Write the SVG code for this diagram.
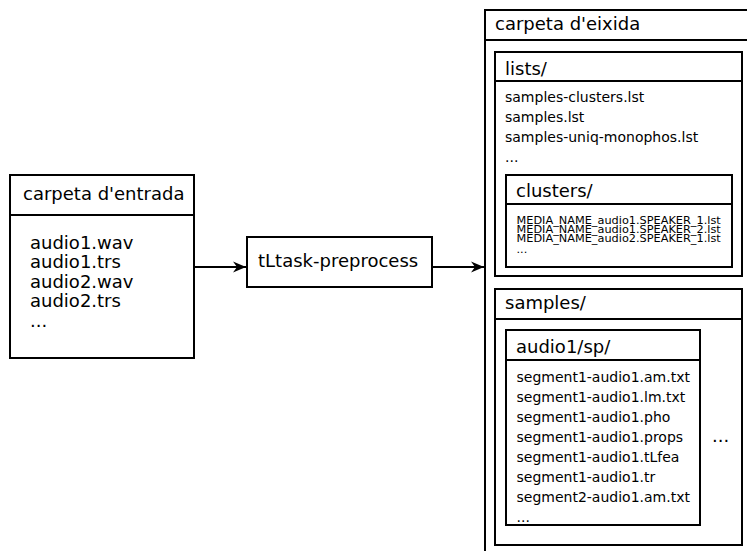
<svg xmlns="http://www.w3.org/2000/svg" width="747" height="551" viewBox="0 0 747 551">
<style>
  .box{fill:#fff;stroke:#000;stroke-width:2}
  .sep{stroke:#000;stroke-width:2;fill:none}
  .conn{stroke:#000;stroke-width:2;fill:none}
  text{font-family:"DejaVu Sans","Liberation Sans",sans-serif;fill:#000}
  .t{font-size:18px}
  .m{font-size:14px}
  .s{font-size:11.3px}
</style>
<defs>
  <marker id="arr" markerUnits="userSpaceOnUse" markerWidth="16" markerHeight="14" refX="14" refY="7" orient="auto">
    <path d="M14,7 L1,1.5 L5,7 L1,12.5 Z" fill="#000"/>
  </marker>
</defs>
<rect width="747" height="551" fill="#fff"/>

<g id="input">
  <rect class="box" x="10" y="175" width="184" height="183"/>
  <line class="sep" x1="10" y1="215" x2="194" y2="215"/>
  <text class="t" x="23" y="200">carpeta d'entrada</text>
  <text class="t" x="30" y="248.5">audio1.wav</text>
  <text class="t" x="30" y="268">audio1.trs</text>
  <text class="t" x="30" y="287.5">audio2.wav</text>
  <text class="t" x="30" y="307">audio2.trs</text>
  <text class="t" x="30" y="327">...</text>
</g>

<g id="preprocess">
  <rect class="box" x="247" y="237" width="185" height="50"/>
  <text class="t" x="258" y="267">tLtask-preprocess</text>
</g>

<g id="output">
  <rect class="box" x="485" y="10" width="300" height="600"/>
  <line class="sep" x1="485" y1="40" x2="747" y2="40"/>
  <text class="t" x="495" y="30">carpeta d'eixida</text>
</g>

<g id="lists">
  <rect class="box" x="495" y="52" width="247" height="224"/>
  <line class="sep" x1="495" y1="81" x2="742" y2="81"/>
  <text class="t" x="505" y="75">lists/</text>
  <text class="m" x="505" y="102">samples-clusters.lst</text>
  <text class="m" x="505" y="122">samples.lst</text>
  <text class="m" x="505" y="142">samples-uniq-monophos.lst</text>
  <text class="m" x="505" y="162">...</text>
</g>

<g id="clusters">
  <rect class="box" x="506" y="175" width="226" height="92"/>
  <line class="sep" x1="506" y1="204" x2="732" y2="204"/>
  <text class="t" x="516" y="197">clusters/</text>
  <text class="s" x="516.5" y="224">MEDIA_NAME_audio1.SPEAKER_1.lst</text>
  <text class="s" x="516.5" y="233">MEDIA_NAME_audio1.SPEAKER_2.lst</text>
  <text class="s" x="516.5" y="242">MEDIA_NAME_audio2.SPEAKER_1.lst</text>
  <text class="s" x="516.5" y="253">...</text>
</g>

<g id="samples">
  <rect class="box" x="495" y="289" width="247" height="256"/>
  <line class="sep" x1="495" y1="319" x2="742" y2="319"/>
  <text class="t" x="505" y="309">samples/</text>
  <text class="t" x="712" y="442">...</text>
</g>

<g id="audio1sp">
  <rect class="box" x="506" y="330" width="194" height="195"/>
  <line class="sep" x1="506" y1="360" x2="700" y2="360"/>
  <text class="t" x="516" y="353">audio1/sp/</text>
  <text class="m" x="516.5" y="382">segment1-audio1.am.txt</text>
  <text class="m" x="516.5" y="402">segment1-audio1.lm.txt</text>
  <text class="m" x="516.5" y="422">segment1-audio1.pho</text>
  <text class="m" x="516.5" y="442">segment1-audio1.props</text>
  <text class="m" x="516.5" y="462">segment1-audio1.tLfea</text>
  <text class="m" x="516.5" y="482">segment1-audio1.tr</text>
  <text class="m" x="516.5" y="502">segment2-audio1.am.txt</text>
  <text class="m" x="516.5" y="522">...</text>
</g>

<g id="connectors">
  <line class="conn" x1="194" y1="267" x2="246" y2="267" marker-end="url(#arr)"/>
  <line class="conn" x1="432" y1="267" x2="484" y2="267" marker-end="url(#arr)"/>
</g>
</svg>
